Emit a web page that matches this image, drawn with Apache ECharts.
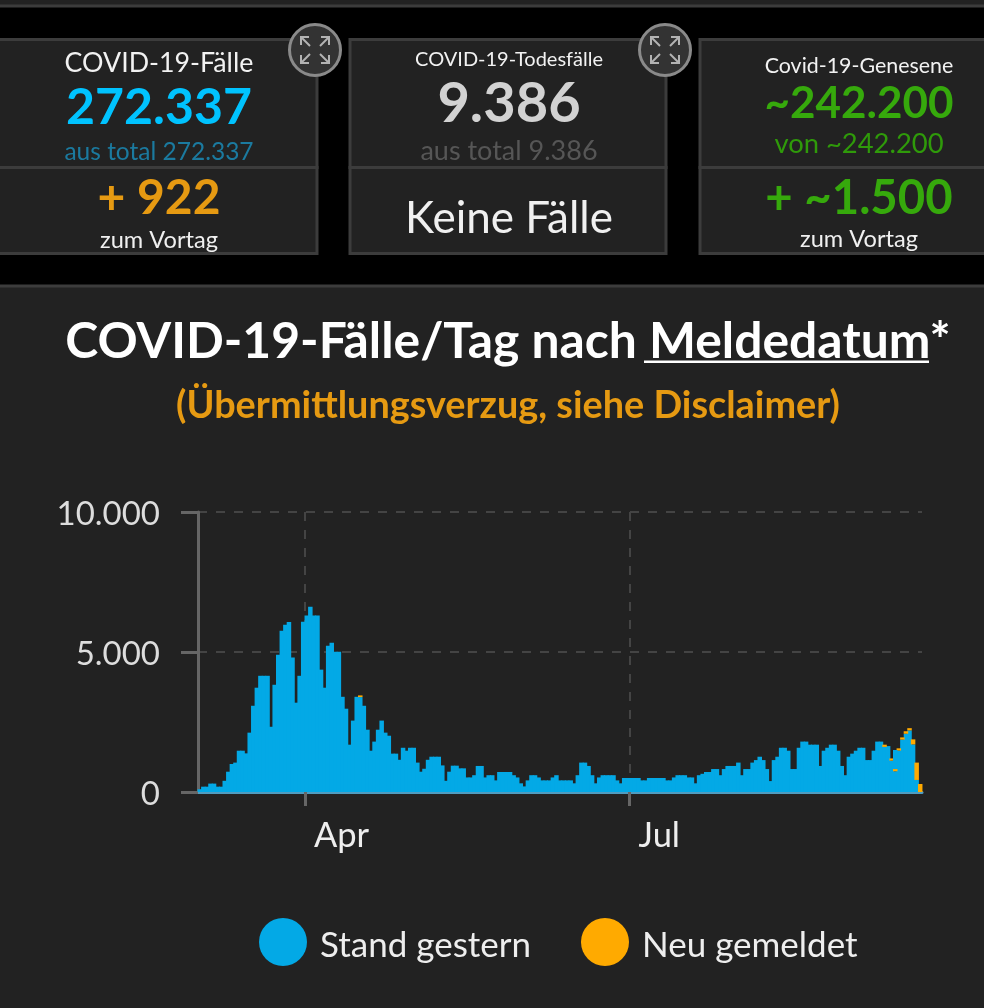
<!DOCTYPE html>
<html><head><meta charset="utf-8">
<script src="https://cdn.jsdelivr.net/npm/echarts@6/dist/echarts.min.js"></script>
<style>html,body{margin:0;padding:0;background:#000}#c{width:984px;height:1008px}</style>
</head><body><div id="c"></div>
<script>
// Blue part per day, starting 2 March (index 30 = 1 April, index 121 = 1 July)
const standGestern = [
 100,190,190,300,300,190,190,400,725,1000,1050,1475,1475,1380,2120,3080,3725,4150,4150,4150,
 2330,3830,4900,5760,5970,6070,4800,3190,4150,6080,6300,6620,6300,6300,4370,3725,5220,5330,5010,5010,
 3400,2975,1690,2550,3400,3390,3080,2225,1475,1800,2225,2550,2120,2010,1370,1370,1150,1580,1475,1580,
 1580,1050,725,830,1150,1260,1260,1260,950,400,725,940,940,
 845,845,520,520,600,930,930,520,600,600,415,715,715,715,715,600,520,310,200,415,600,600,520,415,415,415,
 520,600,415,415,415,415,310,600,1050,1050,930,600,310,520,600,600,600,600,415,310,500,500,500,500,500,
 415,415,500,500,500,500,500,415,415,520,600,600,600,520,520,310,600,
 650,715,715,820,820,600,820,930,930,930,1050,600 ,820,820,1050,1140,1260,1140,820,390,
 1140,1260,1580,1580,1475,820,820,1580,1800,1800,1690,1690,1690,930,1475,1580,1690,1690,1475,930,
 600,1260,1370,1475,1580,1580,1140,1140,1475,1800,1800,1610,1640,1120,740,1480,1870,2080,2200,1700,430,0
];
// Orange part stacked on it
const neuGemeldet = {45:60,192:80,194:80,195:80,196:80,197:80,198:90,199:80,200:180,201:620,202:285};
// Blue drawn above the orange cell on the day it sits inside the bar
const standGesternOben = {195:680};
const monthLabels = {30:'Apr',121:'Jul'};
const cards = [
 {cx:159,head:'COVID-19-Fälle',headY:62,headS:26.8,big:'272.337',bigC:'#00C3FF',bigY:106,bigS:50,sub:'aus total 272.337',subC:'#1b7a9f',subY:151,subS:24.5,low:'+ 922',lowC:'#E69A12',lowY:197,lowS:48,foot:'zum Vortag',footY:239},
 {cx:509,head:'COVID-19-Todesfälle',headY:58,headS:20,big:'9.386',bigC:'#d2d2d2',bigY:102,bigS:56,sub:'aus total 9.386',subC:'#565656',subY:150,subS:27,low:'Keine Fälle',lowC:'#f0f0f0',lowY:217,lowS:44,lowW:400},
 {cx:859,head:'Covid-19-Genesene',headY:65,headS:21.4,big:'~242.200',bigC:'#36A90C',bigY:102,bigS:44,sub:'von ~242.200',subC:'#2F9A0A',subY:143,subS:27.4,low:'+ ~1.500',lowC:'#36A90C',lowY:197,lowS:47.3,foot:'zum Vortag',footY:238}
];
const FF = 'Lato, "Noto Sans", sans-serif';
const days = standGestern.map((_,i)=>'d'+i);
// Tick axis has one more slot: its points sit on the day boundaries
const boundaries = days.concat(['end']).map((d,i)=>monthLabels[i]||d);
const isMonth = i => monthLabels[i]!==undefined;
const newArr = days.map((_,i)=>neuGemeldet[i]||0);
const topArr = days.map((_,i)=>standGesternOben[i]||0);

const g = [];
const rect=(x,y,w,h,fill,stroke)=>g.push({type:'rect',silent:true,shape:{x,y,width:w,height:h},style:{fill,stroke:stroke||null,lineWidth:stroke?3:0}});
const txt=(t,x,y,s,c,w)=>g.push({type:'text',silent:true,style:{text:t,x,y:y+1.5,align:'center',verticalAlign:'middle',fontSize:s,fill:c,fontFamily:FF,fontWeight:w||400}});
const BD='#3c3c3c';
rect(-4,-4,992,10,'#222',BD);
rect(-3,39.5,320,128,'#222',BD); rect(-3,167.5,320,86,'#222',BD);
rect(350,39.5,316,128,'#222',BD); rect(350,167.5,316,86,'#222',BD);
rect(700,39.5,300,128,'#222',BD); rect(700,167.5,300,86,'#222',BD);
rect(-3,286,992,730,'#222',BD);
cards.forEach(c=>{
  txt(c.head,c.cx,c.headY,c.headS,'#f2f2f2');
  txt(c.big,c.cx,c.bigY,c.bigS,c.bigC,700);
  txt(c.sub,c.cx,c.subY,c.subS,c.subC);
  txt(c.low,c.cx,c.lowY,c.lowS,c.lowC,c.lowW||700);
  if(c.foot) txt(c.foot,c.cx,c.footY,23.6,'#f0f0f0');
});
[[315,50],[665,50]].forEach(([x,y])=>{
  g.push({type:'circle',silent:true,shape:{cx:x,cy:y,r:25.5},style:{fill:'#333',stroke:'#8a8a8a',lineWidth:3}});
  [[-1,-1],[1,-1],[-1,1],[1,1]].forEach(([a,b])=>{
    const s={stroke:'#b4b4b4',lineWidth:2,fill:null};
    g.push({type:'polyline',silent:true,shape:{points:[[x+a*14,y+b*5],[x+a*14,y+b*13],[x+a*6,y+b*13]]},style:s});
    g.push({type:'line',silent:true,shape:{x1:x+a*14,y1:y+b*13,x2:x+a*5,y2:y+b*4},style:s});
  });
});
txt('COVID-19-Fälle/Tag nach Meldedatum*',508,340.5,49.8,'#fff',700);
txt('(Übermittlungsverzug, siehe Disclaimer)',508,404,37.8,'#E69A12',700);
rect(644,360.5,285,2.5,'#fff');

const chart = echarts.init(document.getElementById('c'));
const barBase={type:'bar',stack:'a',barWidth:4.5,clip:false,animation:false,silent:true};
chart.setOption({
  backgroundColor:'#000',animation:false,
  graphic:{elements:g},
  grid:{left:198,right:62,top:512,bottom:216},
  legend:{left:254,top:913,itemWidth:48,itemHeight:48,itemGap:50,icon:'circle',selectedMode:false,
    data:['Stand gestern','Neu gemeldet'],
    formatter:'{t|{name}}',
    textStyle:{color:'#eee',fontSize:35,fontFamily:FF,
      rich:{t:{color:'#eee',fontSize:35,fontFamily:FF,padding:[8,0,0,8]}}}},
  xAxis:[
   {type:'category',data:days,boundaryGap:true,
    axisLine:{lineStyle:{color:'#4f9cc0',width:3}},
    axisTick:{show:false},axisLabel:{show:false},splitLine:{show:false}},
   {type:'category',data:boundaries,boundaryGap:false,position:'bottom',
    axisLine:{show:false},
    axisTick:{show:true,length:14,interval:isMonth,lineStyle:{color:'#666',width:3}},
    axisLabel:{color:'#eee',fontSize:34.5,fontFamily:FF,margin:26,align:'left',padding:[0,0,0,9],
      interval:isMonth,formatter:v=>v},
    splitLine:{show:true,interval:isMonth,lineStyle:{color:'#444',type:[9,9],width:2}}}
  ],
  yAxis:{type:'value',min:0,max:10000,interval:5000,
    axisLine:{show:true,lineStyle:{color:'#666',width:3}},
    axisTick:{show:true,length:17,lineStyle:{color:'#666',width:3}},
    axisLabel:{color:'#ddd',fontSize:33,fontFamily:FF,margin:38,
      rich:{n:{color:'#ddd',fontSize:33,fontFamily:FF,padding:[4,0,0,0]}},
      formatter:v=>'{n|'+(v===0?'0':String(v).replace(/(\d)(\d{3})$/,'$1.$2'))+'}'},
    splitLine:{show:true,lineStyle:{color:'#444',type:[9,9],width:2}}},
  series:[
    Object.assign({},barBase,{name:'Stand gestern',data:standGestern,itemStyle:{color:'#03A9E6'}}),
    Object.assign({},barBase,{name:'Neu gemeldet',data:newArr,itemStyle:{color:'#FFAA00'}}),
    Object.assign({},barBase,{name:'Stand gestern',data:topArr,itemStyle:{color:'#03A9E6'}})
  ]
});
</script></body></html>
